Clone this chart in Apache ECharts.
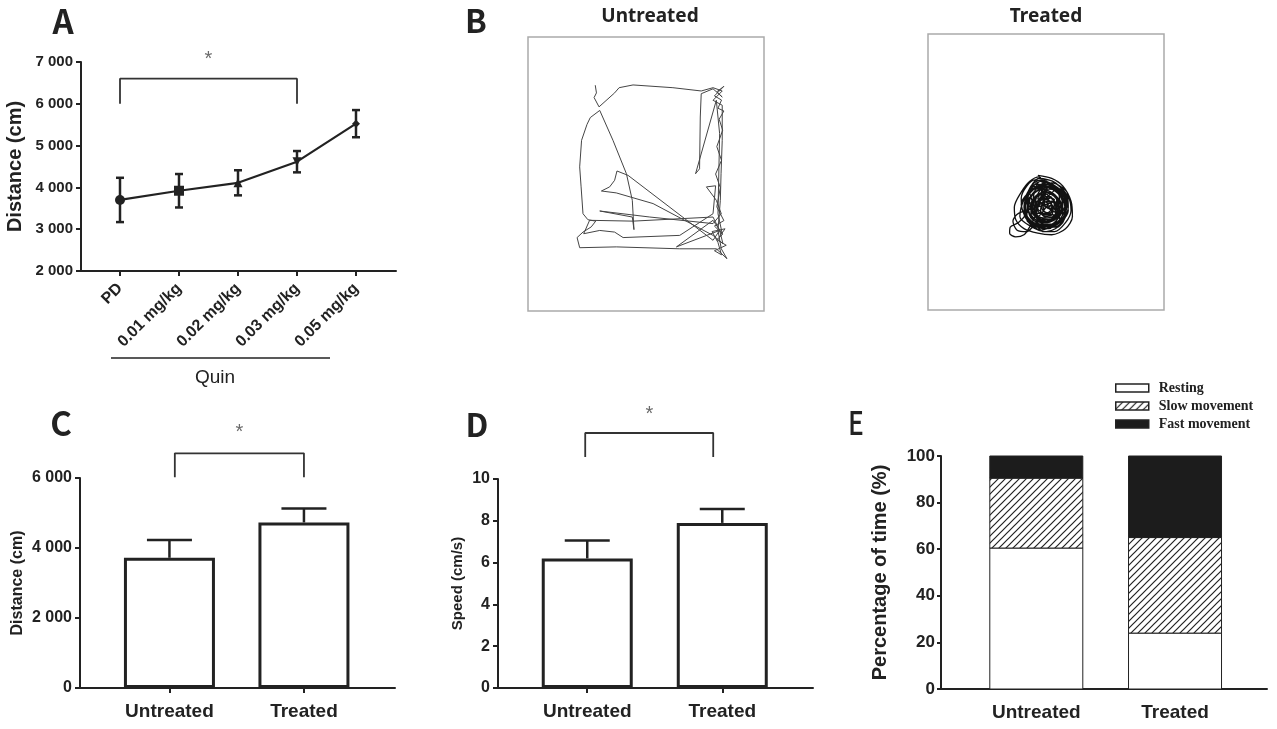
<!DOCTYPE html>
<html><head><meta charset="utf-8">
<script src="https://cdn.jsdelivr.net/npm/echarts@6/dist/echarts.min.js"></script>
<style>html,body{margin:0;padding:0;background:#fff}#c{width:1277px;height:729px}</style>
</head><body><div id="c"></div>
<script>
// ---------------- DATA ----------------
const catsA = ['PD', '0.01 mg/kg', '0.02 mg/kg', '0.03 mg/kg', '0.05 mg/kg'];
const meansA = [3700, 3920, 4110, 4615, 5525];
const sdA = [530, 400, 300, 255, 325];
const ticksA = [2000, 3000, 4000, 5000, 6000, 7000];
const tickLabelsA = ['2 000', '3 000', '4 000', '5 000', '6 000', '7 000'];

const groups = ['Untreated', 'Treated'];
const distC = [3720, 4730];
const sdC = [510, 400];
const ticksC = [0, 2000, 4000, 6000];
const tickLabelsC = ['0', '2 000', '4 000', '6 000'];

const speedD = [6.2, 7.9];
const sdD = [0.86, 0.67];
const ticksD = [0, 2, 4, 6, 8, 10];

const legendE = ['Resting', 'Slow movement', 'Fast movement'];
const restingE = [60.5, 24];
const slowE = [30, 41];
const fastE = [9.5, 35];
const ticksE = [0, 20, 40, 60, 80, 100];

// open-field tracks (arena units, x left->right, y bottom->top)
const trackUntreated = [
[28.5,82.4],[29.0,79.6],[28.0,77.9],[30.1,74.5],[36.7,79.6],[38.6,81.5],[44.5,82.5],[61.4,81.5],[73.4,80.3],[78.4,81.5],
[82.3,80.3],[78.4,76.9],[82.3,75.1],[82.3,62.3],[81.8,50.1],[81.5,40.4],[80.5,29.4],[81.9,22.7],[84.3,19.1],[79.8,22.7],
[64.3,22.7],[37.4,23.4],[21.9,23.1],[20.8,26.8],[23.3,28.8],[26.8,30.7],[28.7,32.8],[25.4,33.3],[23.3,35.5],[22.5,45.3],
[21.9,52.6],[22.7,62.3],[25.0,68.1],[26.4,70.6],[30.4,73.2],[36.0,62.3],[41.7,50.1],[44.2,40.4],[44.9,29.7],[44.2,34.3],
[30.4,36.5],[51.6,34.3],[78.4,31.9],[81.9,35.5],[79.8,40.4],[75.6,45.3],[79.5,45.7],[78.4,35.5],[64.3,27.6],[40.3,26.8],
[36.7,28.8],[30.4,29.4],[23.6,28.2],[26.1,33.1],[44.5,32.8],[78.4,34.3],[81.2,29.4],[78.4,25.8],[42.4,49.5],[37.7,51.1],
[36.7,47.7],[34.6,45.3],[31.1,43.8],[37.4,43.1],[53.0,39.2],[78.4,27.6],[82.6,24.6],[81.2,29.4],[62.9,23.4],[78.4,33.1],
[82.3,28.2],[80.5,35.5],[81.2,64.7],[79.8,76.9],[71.0,50.1],[72.7,51.9],[73.0,70.8],[73.4,79.3],[78.4,81.1],[82.3,78.1],
[80,80],[83,82],[79,78.5],[82,77],[80.5,74],[83,73],[81,70],[82.5,66],[80,60],[82,55],[79.5,50],[81.5,45],
[80,38],[83,33],[79,31],[82.5,28],[80,26],[84,24],[79,22],[82,20.5],[80.5,25],[78,29],[83.5,30],[81,27]
];
const trackTreated = [
[45,48.5],[50,47.5],[54,45],[57,40],[57.5,35],[55,31],[50,29],[45,29.5],[40,31],[37,34],[36.5,38],[39,43],[42,46.5],[45.5,48],
[47,46],[52,44.5],[55,41],[56,37],[53,33],[48,31],[43,32.5],[40,36],[40.5,40.5],[43,44],[47,45.5],
[44,44],[49,45],[53,42],[54,38],[52,34.5],[47.5,33],[43,34],[41.5,37.5],[42.5,41.5],[46,44],
[41,36],[38,33],[35,31.5],[34.8,29.5],[37,28.3],[40,29],[42,31.5],[43.5,34],
[48,43],[51.5,41.5],[52.5,38],[50.5,35],[47,34.5],[44,36],[43.5,39.5],[45.5,42.5],[48.5,43.5],
[46,47],[43,45.5],[41,42],[40,38],[42,34],[46,31.5],[51,31.5],[54.5,34],[56,38.5],[54.5,42.5],[50.5,45.5],[46.5,47],
[47.5,40],[50,39],[50,36.5],[47.5,35.5],[45,37],[45.5,40],[48,41.5],[51,40.5],
[38,36],[36,33.5],[37.5,30.5],[41,30],[44,32],[47,30],[51,30],[55,33],[57,37],[56,41.5],[53,44],
[44,47],[41,45],[39,41],[39.5,37],[43,33],[47,32],[52,33],[55,36.5],[54.5,40],[51.5,43.5],[47.5,45],
[46,42],[49,42.5],[52,40],[52,36.5],[49,34],[45,34.5],[42.5,37],[43,40.5],[46,42],
[48,38],[50.5,37.5],[50,35.5],[47.5,35],[46,36.5],[46.5,39],[49,40],[51.5,39],[52,36],
[45,41],[47.5,43],[51,42],[53,39],[52,35],[48.5,33],[45,33.5],[42.5,36],[43,39.5],
[49,44],[53,43],[55,39.5],[54,35.5],[50.5,32.5],[46,32.5],[42.5,35],[41.5,39],[44,43],[48,44.5],
[47,37],[49,38.5],[51.5,37.5],[51,35],[48,33.5],[45,35],[44.5,38],[46.5,40.5],[49.5,41],
[40,39],[42.5,43],[46,45],[50,44],[53.5,41],[54,37],[51,34],[47,33.5],[44,35],[43,38],
[45,46],[48.5,47],[52,45.5],[55.5,42],[56,38],[54,34],[50,32],[45,32],[41.5,34.5],[40.5,38.5],[42,42.5],
[44,38],[52,44],[55,36],[46,30.5],[40,37],[48,46],[54,40],[49,31],[41,34],[43,45],[53,37],[47,33],[42,40],[50,46],
[56,42],[51,33],[44,31.5],[39,39],[45,44.5],[52,41],[48,36],[43,36.5],[47,42],[53,34],[50,40],[45,35],[41,41],
[46,46.5],[51,45],[55,38],[52,31.5],[46,33],[42.5,38.5],[44.5,42],[49,43],[53.5,39],[51,35.5],[47,36],[44,39],
[46.5,44],[50.5,42.5],[54,36],[49.5,32],[43.5,33],[40.5,36.5],[41.5,43],[45.5,47.5],[51.5,46],[55.5,40.5],[54,33],
[48,30],[42,32],[38.5,35],[40,40.5],[44,45.5],[49,45.5],[52.5,42.5],[53,38],[50,34],[46,34],[44,37.5],[46,41],
[49.5,41.5],[51,38.5],[49,36],[46.5,37.5],[47.5,40.5],[50,39.5],[48.5,37.5]
];

// ---------------- STYLE HELPERS ----------------
const INK = '#222';
const SANS = 'Liberation Sans, Arial, sans-serif';
function fmtFrom(ticks, labels) { return v => { const i = ticks.indexOf(v); return i >= 0 ? labels[i] : ''; }; }

function hatch() {
  const s = 7, c = document.createElement('canvas');
  c.width = s; c.height = s;
  const g = c.getContext('2d');
  g.fillStyle = '#fff'; g.fillRect(0, 0, s, s);
  g.strokeStyle = '#222'; g.lineWidth = 1.2;
  g.beginPath();
  g.moveTo(0, s); g.lineTo(s, 0);
  g.moveTo(-1, 1); g.lineTo(1, -1);
  g.moveTo(s - 1, s + 1); g.lineTo(s + 1, s - 1);
  g.stroke();
  return { image: c, repeat: 'repeat' };
}
const HATCH = hatch();

function errItem(capW, both) {
  return function (params, api) {
    const x = api.value(0), lo = api.value(1), hi = api.value(2);
    const pLo = api.coord([x, lo]), pHi = api.coord([x, hi]);
    const st = { stroke: INK, lineWidth: 2.5, fill: null };
    const ch = [
      { type: 'line', shape: { x1: pLo[0], y1: pLo[1], x2: pHi[0], y2: pHi[1] }, style: st },
      { type: 'line', shape: { x1: pHi[0] - capW / 2, y1: pHi[1], x2: pHi[0] + capW / 2, y2: pHi[1] }, style: st }
    ];
    if (both) ch.push({ type: 'line', shape: { x1: pLo[0] - capW / 2, y1: pLo[1], x2: pLo[0] + capW / 2, y2: pLo[1] }, style: st });
    return { type: 'group', children: ch };
  };
}
function segItem(fill, barW) {
  return function (params, api) {
    const x = api.value(0), lo = api.value(1), hi = api.value(2);
    const pTop = api.coord([x, hi]), pBot = api.coord([x, lo]);
    return { type: 'rect', shape: { x: pTop[0] - barW / 2, y: pTop[1], width: barW, height: pBot[1] - pTop[1] },
      style: { fill: fill, stroke: INK, lineWidth: 1 } };
  };
}
function stackSeg(values, below) {
  return values.map((v, i) => { const b = below.reduce((s, arr) => s + arr[i], 0); return [i, b, b + v]; });
}

function valueX(grid, min, max, opts) {
  return Object.assign({
    gridIndex: grid, type: 'value', min: min, max: max,
    axisLine: { show: true, onZero: false, lineStyle: { color: INK, width: 2 } },
    axisTick: { show: true, customValues: [0, 1], length: 5, lineStyle: { color: INK, width: 2 } },
    axisLabel: { customValues: [0, 1], formatter: v => groups[v], fontFamily: SANS, fontWeight: 'bold', fontSize: 19, color: INK, margin: 14 },
    splitLine: { show: false }
  }, opts || {});
}
function valueY(grid, min, max, interval, fmt, name, nameGap, nameSize, labelSize, opts) {
  return Object.assign({
    gridIndex: grid, type: 'value', min: min, max: max, interval: interval,
    axisLine: { show: true, onZero: false, lineStyle: { color: INK, width: 2 } },
    axisTick: { show: true, length: 5, lineStyle: { color: INK, width: 2 } },
    axisLabel: { formatter: fmt, fontFamily: SANS, fontWeight: 'bold', fontSize: labelSize, color: INK, margin: 8 },
    splitLine: { show: false },
    name: name, nameLocation: 'middle', nameGap: nameGap,
    nameTextStyle: { fontFamily: SANS, fontWeight: 'bold', fontSize: nameSize, color: INK }
  }, opts || {});
}
function hiddenAxis(grid, min, max) {
  return { gridIndex: grid, type: 'value', min: min, max: max, show: false, splitLine: { show: false } };
}
function bracket(xi, yi, x1, x2, yLow, yHigh) {
  return { type: 'line', xAxisIndex: xi, yAxisIndex: yi, clip: false, symbol: 'none', silent: true,
    data: [[x1, yLow], [x1, yHigh], [x2, yHigh], [x2, yLow]],
    lineStyle: { color: '#333', width: 1.8 }, z: 5 };
}
function star(xi, yi, x, y, dist) {
  return { type: 'scatter', xAxisIndex: xi, yAxisIndex: yi, clip: false, silent: true, symbolSize: 0,
    data: [[x, y]],
    label: { show: true, formatter: '*', position: 'top', distance: dist, fontFamily: SANS, fontSize: 20, color: '#444' } };
}

const shapesA = ['circle', 'rect', 'triangle', 'path://M0,0 L10,0 L5,9 Z', 'diamond'];
const sizesA = [10, 10, 9, 9, 8];

const chart = echarts.init(document.getElementById('c'), null, { renderer: 'canvas' });
chart.setOption({
  animation: false,
  backgroundColor: '#fff',
  grid: [
    { left: 81, top: 62, width: 315, height: 209 },
    { left: 528, top: 37, width: 236, height: 274, show: true, borderColor: '#aaa', borderWidth: 1.5, backgroundColor: '#fff' },
    { left: 928, top: 34, width: 236, height: 276, show: true, borderColor: '#aaa', borderWidth: 1.5, backgroundColor: '#fff' },
    { left: 80, top: 478, width: 315, height: 210 },
    { left: 498, top: 479, width: 315, height: 209 },
    { left: 941, top: 456, width: 326, height: 233 }
  ],
  xAxis: [
    valueX(0, -0.661, 4.678, {
      axisTick: { show: true, customValues: [0, 1, 2, 3, 4], length: 5, lineStyle: { color: INK, width: 2 } },
      axisLabel: { customValues: [0, 1, 2, 3, 4], rotate: 45, formatter: v => catsA[v], fontFamily: SANS, fontWeight: 'bold', fontSize: 16, color: INK, margin: 15 }
    }),
    hiddenAxis(1, 0, 100),
    hiddenAxis(2, 5.3, 90.6),
    valueX(3, -0.665, 1.677),
    valueX(4, -0.661, 1.672),
    valueX(5, -0.687, 1.663, { axisTick: { show: false } })
  ],
  yAxis: [
    valueY(0, 2000, 7000, 1000, fmtFrom(ticksA, tickLabelsA), 'Distance (cm)', 56, 20, 15),
    hiddenAxis(1, 0, 100),
    hiddenAxis(2, 4.3, 94.9),
    valueY(3, 0, 6000, 2000, fmtFrom(ticksC, tickLabelsC), 'Distance (cm)', 54, 16, 16),
    valueY(4, 0, 10, 2, v => String(v), 'Speed (cm/s)', 33, 15, 16),
    valueY(5, 0, 100, 20, v => String(v), 'Percentage of time (%)', 51, 20, 17,
      { axisTick: { show: true, length: 4, lineStyle: { color: INK, width: 2 } },
        axisLabel: { formatter: v => String(v), fontFamily: SANS, fontWeight: 'bold', fontSize: 17, color: INK, margin: 6 } })
  ],
  legend: {
    data: legendE, orient: 'vertical', left: 1115, top: 380, padding: 0, itemWidth: 33, itemHeight: 8, itemGap: 2,
    icon: 'rect', selectedMode: false,
    itemStyle: { borderColor: INK, borderWidth: 1.5 },
    textStyle: { fontFamily: 'Liberation Serif, Times New Roman, serif', fontWeight: 'bold', fontSize: 14, color: INK, lineHeight: 16, padding: [0, 0, 0, 5] }
  },
  series: [
    // ---- A ----
    { type: 'line', xAxisIndex: 0, yAxisIndex: 0, z: 4,
      data: meansA.map((v, i) => ({ value: [i, v], symbol: shapesA[i], symbolSize: sizesA[i] })),
      lineStyle: { color: INK, width: 2.2 }, itemStyle: { color: INK } },
    { type: 'custom', xAxisIndex: 0, yAxisIndex: 0, z: 3, clip: false,
      encode: { x: 0, y: [1, 2] },
      data: meansA.map((v, i) => [i, v - sdA[i], v + sdA[i]]),
      renderItem: errItem(8, true) },
    bracket(0, 0, 0, 3, 6000, 6600),
    star(0, 0, 1.5, 6600, 9),
    // ---- B ----
    { type: 'line', xAxisIndex: 1, yAxisIndex: 1, symbol: 'none', data: trackUntreated,
      lineStyle: { color: '#454545', width: 1 } },
    { type: 'line', xAxisIndex: 2, yAxisIndex: 2, symbol: 'none', data: trackTreated, smooth: 0.3,
      lineStyle: { color: '#111', width: 1.3 } },
    // ---- C ----
    { type: 'bar', xAxisIndex: 3, yAxisIndex: 3, barWidth: 91,
      data: distC.map((v, i) => [i, v]),
      itemStyle: { color: '#fff', borderColor: INK, borderWidth: 3 } },
    { type: 'custom', xAxisIndex: 3, yAxisIndex: 3, clip: false, z: 3,
      encode: { x: 0, y: [1, 2] },
      data: distC.map((v, i) => [i, v, v + sdC[i]]),
      renderItem: errItem(45, false) },
    bracket(3, 3, 0.04, 1, 6020, 6706),
    star(3, 3, 0.52, 6706, 11),
    // ---- D ----
    { type: 'bar', xAxisIndex: 4, yAxisIndex: 4, barWidth: 91,
      data: speedD.map((v, i) => [i, v]),
      itemStyle: { color: '#fff', borderColor: INK, borderWidth: 3 } },
    { type: 'custom', xAxisIndex: 4, yAxisIndex: 4, clip: false, z: 3,
      encode: { x: 0, y: [1, 2] },
      data: speedD.map((v, i) => [i, v, v + sdD[i]]),
      renderItem: errItem(45, false) },
    bracket(4, 4, -0.015, 0.933, 11.05, 12.2),
    star(4, 4, 0.46, 12.2, 9),
    // ---- E (stacked segments) ----
    { type: 'custom', name: legendE[0], xAxisIndex: 5, yAxisIndex: 5,
      encode: { x: 0, y: [1, 2] },
      itemStyle: { color: '#fff', borderColor: INK, borderWidth: 1 },
      data: stackSeg(restingE, []), renderItem: segItem('#fff', 93) },
    { type: 'custom', name: legendE[1], xAxisIndex: 5, yAxisIndex: 5,
      encode: { x: 0, y: [1, 2] },
      itemStyle: { color: HATCH, borderColor: INK, borderWidth: 1 },
      data: stackSeg(slowE, [restingE]), renderItem: segItem(HATCH, 93) },
    { type: 'custom', name: legendE[2], xAxisIndex: 5, yAxisIndex: 5,
      encode: { x: 0, y: [1, 2] },
      itemStyle: { color: '#1c1c1c', borderColor: INK, borderWidth: 1 },
      data: stackSeg(fastE, [restingE, slowE]), renderItem: segItem('#1c1c1c', 93) }
  ],
  graphic: [
    { type: 'text', x: 63, y: 21, style: { text: 'A', font: 'bold 33px "Noto Sans CJK SC", sans-serif', fill: INK, textAlign: 'center', textVerticalAlign: 'middle' } },
    { type: 'text', x: 476, y: 21, style: { text: 'B', font: 'bold 32px "Noto Sans CJK SC", sans-serif', fill: INK, textAlign: 'center', textVerticalAlign: 'middle' } },
    { type: 'text', x: 61, y: 423, style: { text: 'C', font: 'bold 33px "Noto Sans CJK SC", sans-serif', fill: INK, textAlign: 'center', textVerticalAlign: 'middle' } },
    { type: 'text', x: 477, y: 425, style: { text: 'D', font: 'bold 32px "Noto Sans CJK SC", sans-serif', fill: INK, textAlign: 'center', textVerticalAlign: 'middle' } },
    { type: 'text', x: 856, y: 422, scaleX: 0.8, style: { text: 'E', font: '500 33px "Noto Sans CJK SC", sans-serif', fill: INK, textAlign: 'center', textVerticalAlign: 'middle' } },
    { type: 'text', x: 650, y: 17, style: { text: 'Untreated', font: 'bold 19px "Noto Sans", sans-serif', fill: INK, textAlign: 'center', textVerticalAlign: 'middle' } },
    { type: 'text', x: 1046, y: 17, style: { text: 'Treated', font: 'bold 19px "Noto Sans", sans-serif', fill: INK, textAlign: 'center', textVerticalAlign: 'middle' } },
    { type: 'line', shape: { x1: 111, y1: 358, x2: 330, y2: 358 }, style: { stroke: INK, lineWidth: 1.5 } },
    { type: 'text', x: 215, y: 378, style: { text: 'Quin', font: '19px "Liberation Sans", Arial, sans-serif', fill: INK, textAlign: 'center', textVerticalAlign: 'middle' } }
  ]
});
</script></body></html>
